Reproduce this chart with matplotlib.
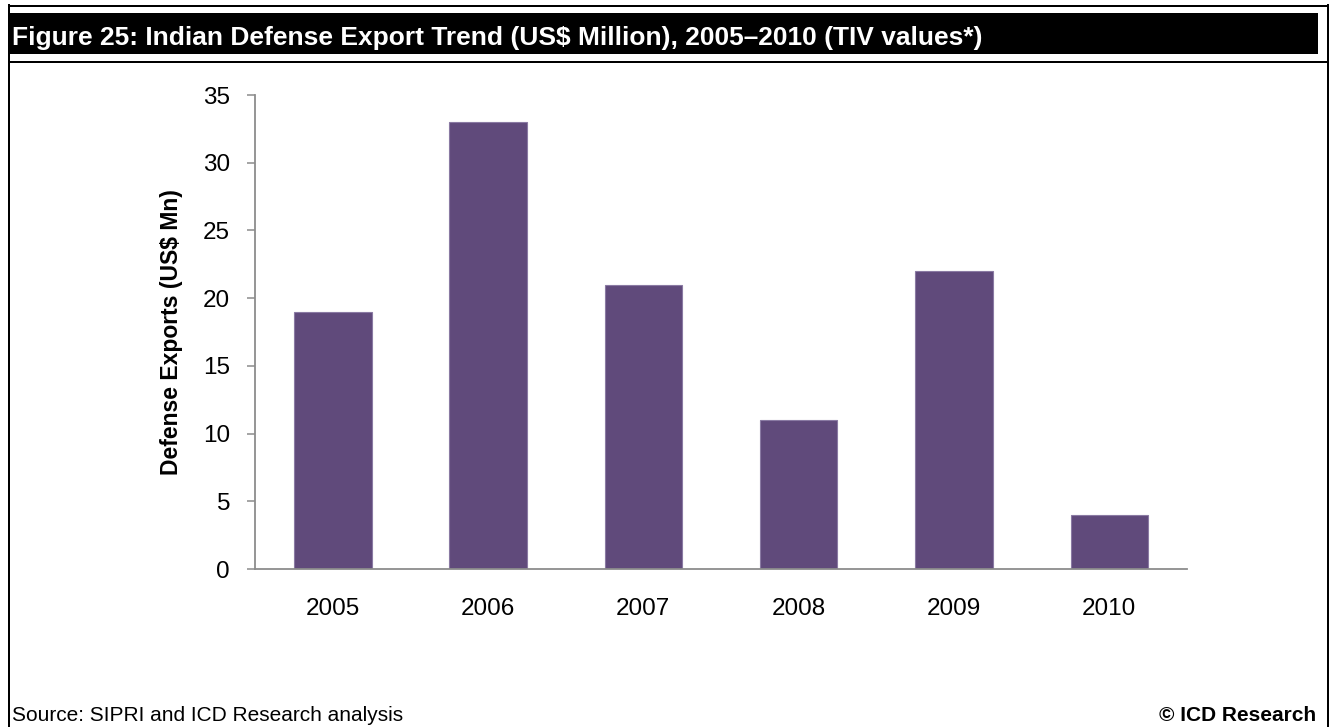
import matplotlib
matplotlib.use("Agg")
import matplotlib.pyplot as plt
from matplotlib.lines import Line2D
from matplotlib.patches import Rectangle

plt.rcParams['font.family'] = ['Liberation Sans', 'DejaVu Sans']

years = ["2005", "2006", "2007", "2008", "2009", "2010"]
exports = [19, 33, 21, 11, 22, 4]
y_ticks = [0, 5, 10, 15, 20, 25, 30, 35]

title = "Figure 25: Indian Defense Export Trend (US$ Million), 2005\u20132010 (TIV values*)"
source = "Source: SIPRI and ICD Research analysis"
copyright_note = "\u00a9 ICD Research"

W, H = 1333, 727
fig = plt.figure(figsize=(W / 100, H / 100), dpi=100)

# frame: top rule, side rules, black title band and the rule under it
def px_line(x0, y0, x1, y1, lw=2):
    fig.add_artist(Line2D([x0 / W, x1 / W], [1 - y0 / H, 1 - y1 / H],
                          color="black", linewidth=lw * 0.72,
                          transform=fig.transFigure))

fig.add_artist(Rectangle((10 / W, 1 - 54 / H), (1318 - 10) / W, 41 / H,
                         facecolor="black", edgecolor="none",
                         transform=fig.transFigure))
px_line(9, 6, 1328, 6)
px_line(9, 62, 1328, 62)
px_line(9, 5, 9, H)
px_line(1328, 5, 1328, H)

fig.text(12 / W, 1 - 45 / H, title, color="white", fontsize=19,
         fontweight="bold", ha="left", va="baseline")
fig.text(12 / W, 1 - 721 / H, source, fontsize=15, ha="left", va="baseline")
fig.text(1316 / W, 1 - 721 / H, copyright_note, fontsize=15,
         fontweight="bold", ha="right", va="baseline")

ax = fig.add_axes([255 / W, 1 - 569 / H, (1187 - 255) / W, (569 - 95) / H])
ax.bar(range(len(years)), exports, width=0.5, color="#604A7B",
       edgecolor="#8a7aa3", linewidth=0.8, zorder=2)
ax.set_xlim(-0.5, len(years) - 0.5)
ax.set_ylim(0, 35)
ax.set_yticks(y_ticks)
ax.set_xticks(range(len(years)))
ax.set_xticklabels(years)

for side in ("top", "right"):
    ax.spines[side].set_visible(False)
for side in ("left", "bottom"):
    ax.spines[side].set_color("#8c8c8c")
    ax.spines[side].set_linewidth(1.3)
    ax.spines[side].set_zorder(3)

ax.tick_params(axis="y", direction="out", length=6, width=1.1,
               color="#8c8c8c", labelsize=17.5, pad=12)
ax.tick_params(axis="x", length=0, labelsize=17.5, pad=21)
ax.set_ylabel("Defense Exports (US$ Mn)", fontsize=16.5, fontweight="bold",
              labelpad=14)

fig.savefig("out.png", dpi=100)
